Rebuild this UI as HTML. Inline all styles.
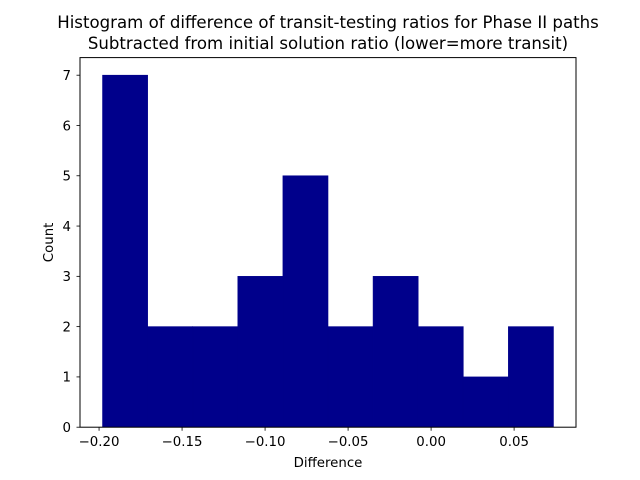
<!DOCTYPE html>
<html><head><meta charset="utf-8"><style>
html,body{margin:0;padding:0;background:#fff;}
svg{display:block;font-family:"DejaVu Sans","Liberation Sans",sans-serif;}
</style></head><body>
<svg id="chart" width="640" height="480" viewBox="0 0 640 480">
<rect width="640" height="480" fill="#fff"/>
<text x="328" y="28" font-size="16.6" text-anchor="middle">Histogram of difference of transit-testing ratios for Phase II paths</text>
<text x="328" y="49" font-size="16.6" text-anchor="middle">Subtracted from initial solution ratio (lower=more transit)</text>
<g id="bars"></g>
<g id="xticks"></g>
<g id="yticks"></g>
<rect x="80" y="57.6" width="496" height="369.6" fill="none" stroke="#000" stroke-width="1"/>
<text x="328" y="467" font-size="13.33" text-anchor="middle">Difference</text>
<text transform="translate(53,242.4) rotate(-90)" font-size="13.33" text-anchor="middle">Count</text>
</svg>
<script>
const counts = [7,2,2,3,5,2,3,2,1,2];
const binStart = -0.1979;
const binWidth = 0.02716;
const xTickValues = [-0.20,-0.15,-0.10,-0.05,0.00,0.05];
const xTickLabels = ["\u22120.20","\u22120.15","\u22120.10","\u22120.05","0.00","0.05"];
const yTickValues = [0,1,2,3,4,5,6,7];
const NS="http://www.w3.org/2000/svg";
const xMin=binStart-binWidth*counts.length*0.05, xMax=binStart+binWidth*counts.length*1.05;
const yMax=Math.max(...counts)*1.05;
const X=v=>80+(v-xMin)/(xMax-xMin)*496;
const Y=v=>427.2-v/yMax*369.6;
function mk(t,a){const e=document.createElementNS(NS,t);for(const k in a)e.setAttribute(k,a[k]);return e;}
const bars=document.getElementById('bars');
counts.forEach((c,i)=>{
  const x0=X(binStart+i*binWidth), x1=X(binStart+(i+1)*binWidth);
  const r=mk('rect',{x:x0,y:Y(c),width:x1-x0,height:Y(0)-Y(c),fill:'#00008b',stroke:'#00008b','stroke-width':0.6});
  
  
  bars.appendChild(r);
});
const xt=document.getElementById('xticks');
xTickValues.forEach((v,i)=>{
  const x=X(v);
  const l=mk('line',{x1:x,x2:x,y1:427.2,y2:430.7,stroke:'#000','stroke-width':0.8});
  
  
  xt.appendChild(l);
  const t=mk('text',{x:x,y:446,'font-size':13.33,'text-anchor':'middle'});
  
  
  t.textContent=xTickLabels[i];xt.appendChild(t);
});
const yt=document.getElementById('yticks');
yTickValues.forEach(v=>{
  const y=Y(v);
  const l=mk('line',{x1:76.5,x2:80,y1:y,y2:y,stroke:'#000','stroke-width':0.8});
  
  
  yt.appendChild(l);
  const t=mk('text',{x:71,y:y+4.8,'font-size':13.33,'text-anchor':'end'});
  
  
  t.textContent=v;yt.appendChild(t);
});
</script>
</body></html>
